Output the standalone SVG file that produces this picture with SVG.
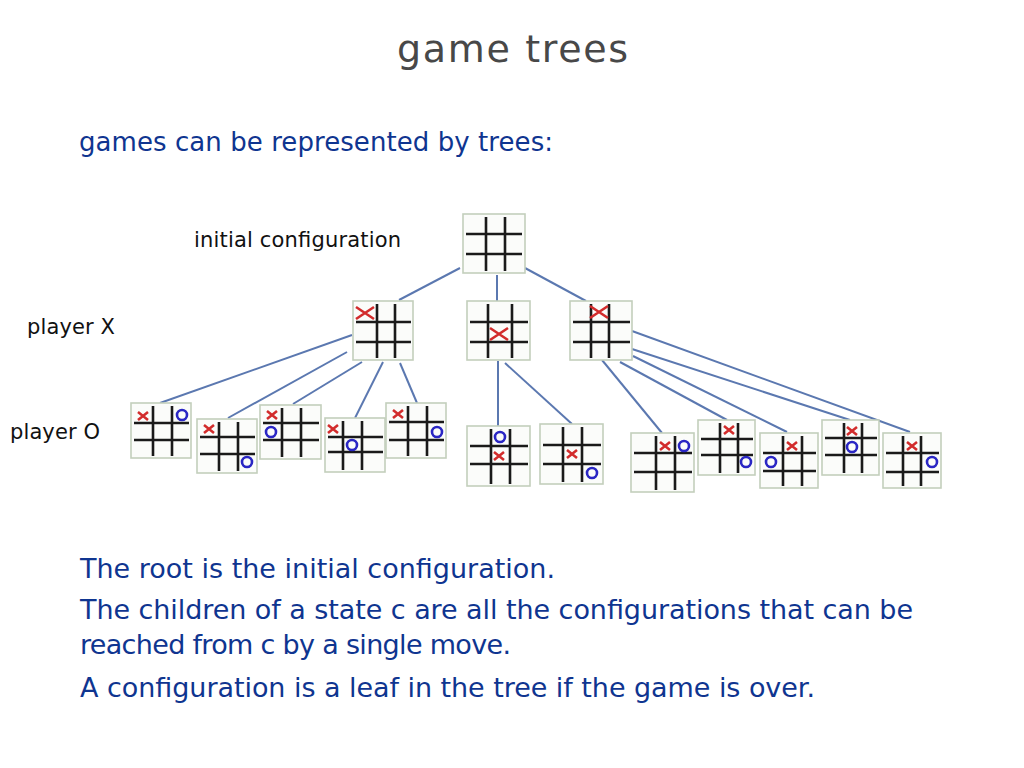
<svg xmlns="http://www.w3.org/2000/svg" width="1024" height="768" viewBox="0 0 1024 768">
<style>
.bg{fill:#ffffff}
.title{font-family:"DejaVu Sans",sans-serif;font-size:38px;fill:#484848}
.sub{font-family:"DejaVu Sans",sans-serif;font-size:26px;fill:#0f3590}
.body{font-family:"DejaVu Sans",sans-serif;font-size:27px;fill:#0f3590}
.lbl{font-family:"DejaVu Sans",sans-serif;font-size:21px;fill:#111111}
.board{fill:#fbfcfa;stroke:#c3cfbc;stroke-width:1.6}
.grid{stroke:#1a1a1a;stroke-width:2.6;fill:none}
.x{stroke:#d22c2c;stroke-width:2.6;fill:none}
.o{stroke:#2a26c4;stroke-width:2.6;fill:none}
.edge{stroke:#5b78b0;stroke-width:2;fill:none}
</style>
<rect class="bg" x="0" y="0" width="1024" height="768"/>
<text class="title" x="397" y="62" textLength="231">game trees</text>
<text class="sub" x="79" y="151" textLength="474">games can be represented by trees:</text>
<text class="lbl" x="194" y="247" textLength="207">initial configuration</text>
<text class="lbl" x="27" y="334" textLength="88">player X</text>
<text class="lbl" x="10" y="439" textLength="90">player O</text>
<g id="connectors">
<line class="edge" x1="460" y1="268" x2="399" y2="300"/>
<line class="edge" x1="497" y1="275" x2="497" y2="302"/>
<line class="edge" x1="525" y1="268" x2="586" y2="301"/>
<line class="edge" x1="352" y1="335" x2="160" y2="403"/>
<line class="edge" x1="347" y1="352" x2="228" y2="418"/>
<line class="edge" x1="362" y1="362" x2="293" y2="404"/>
<line class="edge" x1="383" y1="362" x2="355" y2="418"/>
<line class="edge" x1="400" y1="363" x2="417" y2="403"/>
<line class="edge" x1="498" y1="361" x2="498" y2="427"/>
<line class="edge" x1="505" y1="363" x2="572" y2="424"/>
<line class="edge" x1="602" y1="360" x2="662" y2="433"/>
<line class="edge" x1="620" y1="362" x2="727" y2="420"/>
<line class="edge" x1="633" y1="356" x2="787" y2="432"/>
<line class="edge" x1="632" y1="349" x2="850" y2="420"/>
<line class="edge" x1="632" y1="331" x2="910" y2="432"/>
</g>
<g id="root">
<rect class="board" x="463" y="214" width="62" height="59"/>
<path class="grid" d="M486 217V271M505 217V271M466 234H522M466 254H522"/>
</g>
<g id="x1">
<rect class="board" x="353" y="301" width="60" height="59"/>
<path class="grid" d="M377 304V358M395 304V358M356 322H411M356 342H411"/>
<path class="x" d="M356 307L374 319M356 319L374 307"/>
</g>
<g id="x2">
<rect class="board" x="467" y="301" width="63" height="59"/>
<path class="grid" d="M488 304V358M512 304V358M470 322H528M470 342H528"/>
<path class="x" d="M490 328L508 340M490 340L508 328"/>
</g>
<g id="x3">
<rect class="board" x="570" y="301" width="62" height="59"/>
<path class="grid" d="M591 304V358M609 304V358M573 322H630M573 342H630"/>
<path class="x" d="M590 306L608 318M590 318L608 306"/>
</g>
<g id="o1">
<rect class="board" x="131" y="403" width="60" height="55"/>
<path class="grid" d="M153 406V456M172 406V456M134 423H189M134 440H189"/>
<path class="x" d="M138 412L148 420M138 420L148 412"/>
<circle class="o" cx="182" cy="415" r="5"/>
</g>
<g id="o2">
<rect class="board" x="197" y="419" width="60" height="54"/>
<path class="grid" d="M219 422V471M238 422V471M200 437H255M200 454H255"/>
<path class="x" d="M204 425L214 433M204 433L214 425"/>
<circle class="o" cx="247" cy="462" r="5"/>
</g>
<g id="o3">
<rect class="board" x="260" y="405" width="61" height="54"/>
<path class="grid" d="M282 408V457M301 408V457M263 423H319M263 440H319"/>
<path class="x" d="M267 411L277 419M267 419L277 411"/>
<circle class="o" cx="271" cy="432" r="5"/>
</g>
<g id="o4">
<rect class="board" x="325" y="418" width="60" height="54"/>
<path class="grid" d="M343 421V470M362 421V470M328 437H383M328 452H383"/>
<path class="x" d="M328 425L338 433M328 433L338 425"/>
<circle class="o" cx="352" cy="445" r="5"/>
</g>
<g id="o5">
<rect class="board" x="386" y="403" width="60" height="55"/>
<path class="grid" d="M408 406V456M427 406V456M389 422H444M389 440H444"/>
<path class="x" d="M393 410L403 418M393 418L403 410"/>
<circle class="o" cx="437" cy="432" r="5"/>
</g>
<g id="o6">
<rect class="board" x="467" y="426" width="63" height="60"/>
<path class="grid" d="M491 429V484M510 429V484M470 446H528M470 464H528"/>
<circle class="o" cx="500" cy="437" r="5"/>
<path class="x" d="M494 452L504 460M494 460L504 452"/>
</g>
<g id="o7">
<rect class="board" x="540" y="424" width="63" height="60"/>
<path class="grid" d="M563 427V482M582 427V482M543 445H601M543 464H601"/>
<path class="x" d="M567 450L577 458M567 458L577 450"/>
<circle class="o" cx="592" cy="473" r="5"/>
</g>
<g id="o8">
<rect class="board" x="631" y="433" width="63" height="59"/>
<path class="grid" d="M656 436V490M675 436V490M634 453H692M634 472H692"/>
<path class="x" d="M660 442L670 450M660 450L670 442"/>
<circle class="o" cx="684" cy="446" r="5"/>
</g>
<g id="o9">
<rect class="board" x="698" y="420" width="57" height="55"/>
<path class="grid" d="M720 423V473M738 423V473M701 439H753M701 455H753"/>
<path class="x" d="M724 426L734 434M724 434L734 426"/>
<circle class="o" cx="746" cy="462" r="5"/>
</g>
<g id="o10">
<rect class="board" x="760" y="433" width="58" height="55"/>
<path class="grid" d="M783 436V486M802 436V486M763 453H816M763 471H816"/>
<path class="x" d="M787 442L797 450M787 450L797 442"/>
<circle class="o" cx="771" cy="462" r="5"/>
</g>
<g id="o11">
<rect class="board" x="822" y="420" width="57" height="55"/>
<path class="grid" d="M844 423V473M862 423V473M825 438H877M825 455H877"/>
<path class="x" d="M847 427L857 435M847 435L857 427"/>
<circle class="o" cx="852" cy="447" r="5"/>
</g>
<g id="o12">
<rect class="board" x="883" y="433" width="58" height="55"/>
<path class="grid" d="M903 436V486M921 436V486M886 453H939M886 472H939"/>
<path class="x" d="M907 442L917 450M907 450L917 442"/>
<circle class="o" cx="932" cy="462" r="5"/>
</g>
<text class="body" x="80" y="578" textLength="475">The root is the initial configuration.</text>
<text class="body" x="80" y="619" textLength="833">The children of a state c are all the configurations that can be</text>
<text class="body" x="80" y="654" textLength="431">reached from c by a single move.</text>
<text class="body" x="80" y="697" textLength="735">A configuration is a leaf in the tree if the game is over.</text>
</svg>
